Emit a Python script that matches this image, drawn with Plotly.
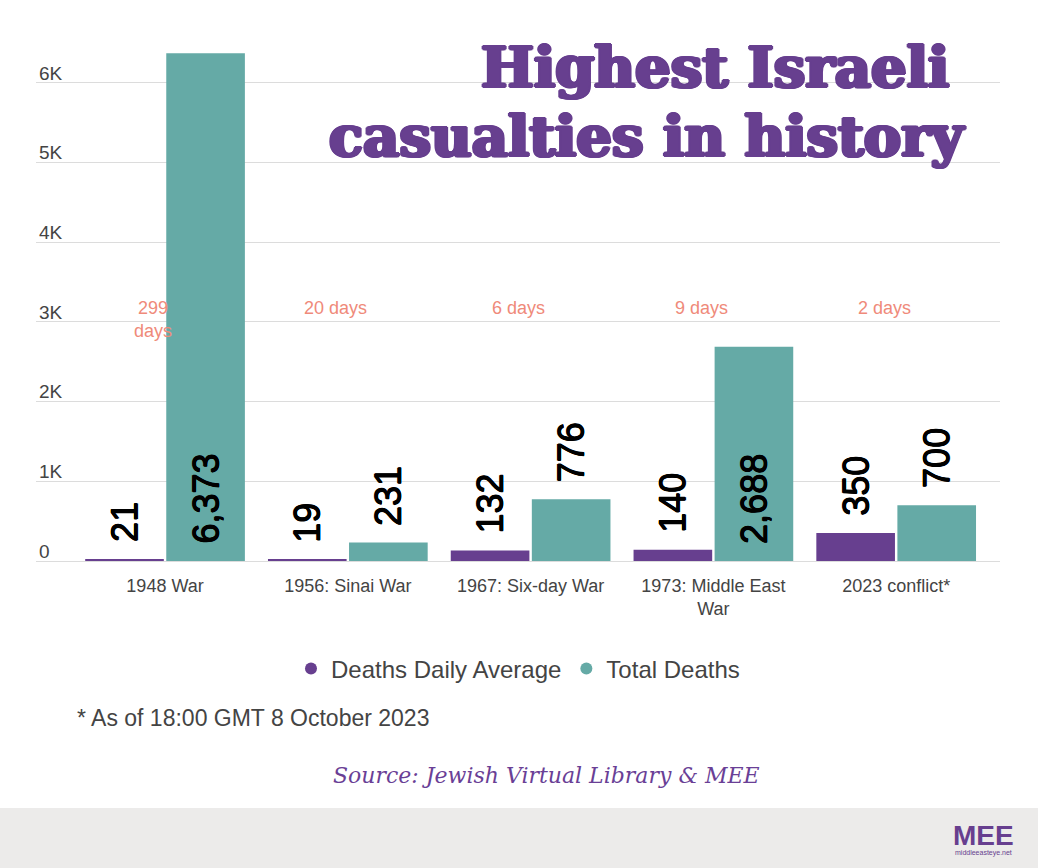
import plotly.graph_objects as go

# ---- data ----
categories = ["1948 War", "1956: Sinai War", "1967: Six-day War", "1973: Middle East<br>War", "2023 conflict*"]
daily_avg = [21, 19, 132, 140, 350]
total_deaths = [6373, 231, 776, 2688, 700]
war_days = [299, 20, 6, 9, 2]
total_label_inside = [True, False, False, True, False]
y_tick_vals = [0, 1000, 2000, 3000, 4000, 5000, 6000]
y_tick_text = ["0", "1K", "2K", "3K", "4K", "5K", "6K"]

PURPLE = "#673f8f"
TEAL = "#65aaa6"
SALMON = "#ef8a7a"
GREY_TXT = "#444444"
BASE_FONT = "Liberation Sans, Arial, sans-serif"
SERIF = "DejaVu Serif, serif"


def px_x(px):
    return (px - 36) / 964


def px_y(py):
    return (561 - py) / 541


fig = go.Figure()
fig.add_bar(x=categories, y=daily_avg, name="Deaths Daily Average",
            marker=dict(color=PURPLE, line=dict(width=0)),
            showlegend=False, hoverinfo="skip")
fig.add_bar(x=categories, y=total_deaths, name="Total Deaths",
            marker=dict(color=TEAL, line=dict(width=0)),
            showlegend=False, hoverinfo="skip")
# legend entries with round symbols
fig.add_scatter(x=[None], y=[None], mode="markers", name="Deaths Daily Average",
                marker=dict(color=PURPLE, size=15, symbol="circle"))
fig.add_scatter(x=[None], y=[None], mode="markers", name="Total Deaths",
                marker=dict(color=TEAL, size=15, symbol="circle"))

# rotated value labels, placed from the data values
val_shadow = "0.5px 0 0 black, -0.5px 0 0 black, 0 0.5px 0 black, 0 -0.5px 0 black"
VAL_FONT = dict(size=36, color="black", family=BASE_FONT, shadow=val_shadow)
for cat, v in zip(categories, daily_avg):
    fig.add_annotation(x=cat, y=v, xref="x", yref="y", text=f"{v:,}", textangle=-90,
                       showarrow=False, xanchor="center", yanchor="bottom",
                       xshift=-40.5, yshift=15, font=VAL_FONT)
for cat, v, inside in zip(categories, total_deaths, total_label_inside):
    fig.add_annotation(x=cat, y=0 if inside else v, xref="x", yref="y", text=f"{v:,}", textangle=-90,
                       showarrow=False, xanchor="center", yanchor="bottom",
                       xshift=40.5, yshift=15, font=VAL_FONT)

# day-count labels
for i, (cat, d) in enumerate(zip(categories, war_days)):
    label = f"{d}<br>days" if i == 0 else f"{d} days"
    fig.add_annotation(x=cat, y=3330, xref="x", yref="y", text=label, showarrow=False,
                       xanchor="center", yanchor="top", xshift=-12,
                       font=dict(size=18, color=SALMON, family=BASE_FONT))

# title
sh = ", ".join(f"{dx}px {dy}px 0 {PURPLE}" for dx, dy in
               [(1, 0), (-1, 0), (0, 1), (0, -1), (1, 1), (-1, -1), (1, -1), (-1, 1), (2, 0), (-2, 0)])
TITLE_FONT = dict(family=SERIF, size=56, color=PURPLE, weight="bold", shadow=sh)
fig.add_annotation(x=px_x(951), y=px_y(67), xref="paper", yref="paper", text="Highest Israeli",
                   showarrow=False, font=TITLE_FONT, xanchor="right", yanchor="middle")
fig.add_annotation(x=px_x(967), y=px_y(136), xref="paper", yref="paper", text="casualties in history",
                   showarrow=False, font=TITLE_FONT, xanchor="right", yanchor="middle")

# footnote and source
fig.add_annotation(x=px_x(75), y=px_y(718), xref="paper", yref="paper",
                   text="* As of 18:00 GMT 8 October 2023", showarrow=False,
                   xanchor="left", yanchor="middle", font=dict(size=23, color=GREY_TXT, family=BASE_FONT))
fig.add_annotation(x=px_x(546), y=px_y(775), xref="paper", yref="paper",
                   text="<i>Source: Jewish Virtual Library & MEE</i>", showarrow=False,
                   xanchor="center", yanchor="middle",
                   font=dict(size=22, color="#6a3f96", family=SERIF))

# bottom band and logo
fig.add_shape(type="rect", xref="paper", yref="paper", x0=px_x(-5), x1=px_x(1045), y0=px_y(808), y1=px_y(875),
              fillcolor="#ecebea", line=dict(width=0), layer="below")
fig.add_annotation(x=px_x(983), y=px_y(835), xref="paper", yref="paper", text="<b>MEE</b>", showarrow=False,
                   xanchor="center", yanchor="middle",
                   font=dict(size=28, color=PURPLE, family="Liberation Sans Narrow, Liberation Sans, sans-serif"))
fig.add_annotation(x=px_x(983), y=px_y(853), xref="paper", yref="paper", text="middleeasteye.net", showarrow=False,
                   xanchor="center", yanchor="middle",
                   font=dict(size=7, color=PURPLE, family=BASE_FONT))

fig.update_layout(
    width=1038, height=868,
    margin=dict(l=36, r=38, t=20, b=307),
    paper_bgcolor="white", plot_bgcolor="white",
    barmode="group", bargap=0.113, bargroupgap=0.03,
    font=dict(family=BASE_FONT, color=GREY_TXT),
    showlegend=True,
    legend=dict(orientation="h", x=0.5, xanchor="center", y=px_y(669), yanchor="middle",
                font=dict(size=24, color=GREY_TXT), itemsizing="constant"),
    xaxis=dict(type="category", range=[-0.706, 4.568], showgrid=False, showline=False,
               ticks="", tickfont=dict(size=18, color=GREY_TXT), ticklabelstandoff=12,
               fixedrange=True),
    yaxis=dict(range=[0, 6790], tickvals=y_tick_vals, ticktext=y_tick_text,
               showgrid=True, gridcolor="#dcdcdc", gridwidth=1,
               zeroline=True, zerolinecolor="#dcdcdc", zerolinewidth=1,
               showline=False, ticks="", ticklabelposition="inside",
               ticklabeloverflow="allow",
               ticklabelstandoff=0, ticklabelshift=-10,
               tickfont=dict(size=19, color=GREY_TXT), fixedrange=True),
)

fig.write_html("out.html")
